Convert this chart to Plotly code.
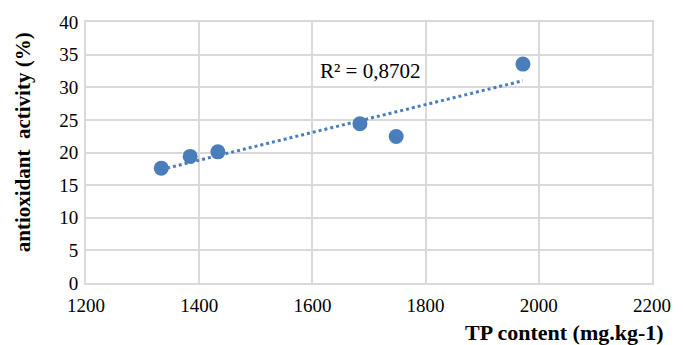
import numpy as np
import plotly.graph_objects as go

tp_content = [1333, 1384, 1433, 1684, 1748, 1972]
antioxidant = [17.6, 19.4, 20.1, 24.4, 22.45, 33.55]
x_ticks = [1200, 1400, 1600, 1800, 2000, 2200]
y_ticks = [0, 5, 10, 15, 20, 25, 30, 35, 40]
r2_label = "R² = 0,8702"

blue = "#4A7EBB"
grid = "#D9D9D9"
font_family = "Liberation Serif, Times New Roman, serif"

x = np.array(tp_content, dtype=float)
y = np.array(antioxidant, dtype=float)
slope, intercept = np.polyfit(x, y, 1)
xt = np.array([x.min(), x.max()])
yt = slope * xt + intercept

fig = go.Figure()
fig.add_trace(go.Scatter(x=xt, y=yt, mode="lines",
                         line=dict(color=blue, width=3, dash="dot"),
                         hoverinfo="skip", showlegend=False))
fig.add_trace(go.Scatter(x=tp_content, y=antioxidant, mode="markers",
                         marker=dict(color=blue, size=15), showlegend=False))

fig.add_annotation(x=1702, y=32.5, text=r2_label,
                   showarrow=False, font=dict(family=font_family, size=21, color="#000"),
                   xanchor="center", yanchor="middle")
fig.add_annotation(xref="paper", yref="paper", x=0.845, y=-0.19, xanchor="center",
                   yanchor="middle",
                   text="<b>TP content (mg.kg-1)</b>", showarrow=False,
                   font=dict(family=font_family, size=22, color="#000"))
fig.add_annotation(xref="paper", yref="paper", x=-0.111, y=0.54, xanchor="center",
                   yanchor="middle", textangle=-90,
                   text="<b>antioxidant  activity (%)</b>", showarrow=False,
                   font=dict(family=font_family, size=21, color="#000"))

fig.update_layout(
    width=683, height=345,
    margin=dict(l=86, r=21, t=22, b=62),
    paper_bgcolor="white", plot_bgcolor="white",
    font=dict(family=font_family, size=19, color="#000"),
    xaxis=dict(range=[1200, 2200], tickvals=x_ticks, showgrid=True, gridcolor=grid,
               gridwidth=2, zeroline=False, showline=True, linecolor=grid, linewidth=2,
               mirror=True, ticks="", ticklen=0, tickfont=dict(size=19),
               ticklabelstandoff=4),
    yaxis=dict(range=[0, 40], tickvals=y_ticks, showgrid=True, gridcolor=grid,
               gridwidth=2, zeroline=False, showline=True, linecolor=grid, linewidth=2,
               mirror=True, ticks="", tickfont=dict(size=19), ticklabelstandoff=2),
)
fig.write_html("out.html")
